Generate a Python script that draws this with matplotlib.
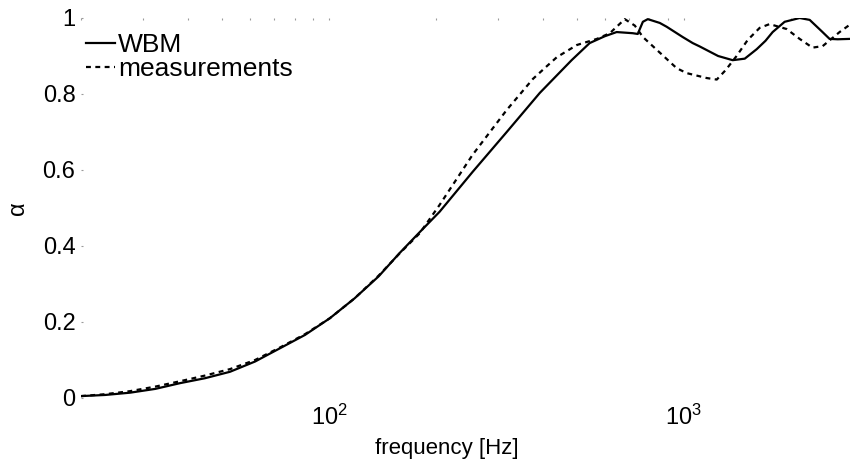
import numpy as np
import matplotlib
matplotlib.use("Agg")
import matplotlib.pyplot as plt

plt.rcParams["font.family"] = ["Liberation Sans", "DejaVu Sans"]
plt.rcParams["mathtext.fontset"] = "custom"
plt.rcParams["mathtext.rm"] = "Liberation Sans"

# WBM model
wbm_freq = [20, 23.4, 27.5, 32.4, 38, 44.7, 52.6, 61.9, 72.8, 85.6, 100.6,
            118, 138, 158, 180, 205, 254, 317, 393, 483, 543, 599, 647, 718,
            742, 767, 792, 856, 895, 993, 1060, 1110, 1250, 1374, 1486, 1606,
            1700, 1781, 1925, 2122, 2265, 2449, 2577, 2716, 2935]
wbm_alpha = [0.005, 0.008, 0.014, 0.024, 0.039, 0.052, 0.069, 0.096, 0.131,
             0.166, 0.21, 0.262, 0.32, 0.381, 0.436, 0.49, 0.595, 0.70,
             0.803, 0.889, 0.934, 0.952, 0.963, 0.96, 0.958, 0.99, 0.997,
             0.987, 0.977, 0.95, 0.934, 0.925, 0.90, 0.889, 0.893, 0.918,
             0.94, 0.963, 0.99, 1.0, 0.995, 0.965, 0.945, 0.944, 0.945]

# measurements
meas_freq = [20, 23.4, 27.5, 32.4, 38, 44.7, 52.6, 61.9, 72.8, 85.6, 100.6,
             118, 138, 158, 180, 205, 254, 317, 376, 411, 439, 500, 569, 619,
             682, 728, 767, 840, 955, 1019, 1161, 1239, 1313, 1409, 1514,
             1637, 1746, 1950, 2122, 2306, 2464, 2750, 2935]
meas_alpha = [0.005, 0.01, 0.018, 0.03, 0.044, 0.059, 0.076, 0.1, 0.133,
              0.168, 0.21, 0.262, 0.322, 0.38, 0.433, 0.508, 0.64, 0.758,
              0.84, 0.873, 0.897, 0.929, 0.945, 0.96, 0.997, 0.98, 0.95,
              0.916, 0.868, 0.855, 0.842, 0.838, 0.863, 0.90, 0.942, 0.974,
              0.984, 0.971, 0.945, 0.922, 0.926, 0.963, 0.982]

fig = plt.figure(figsize=(8.5, 4.62), dpi=100)
ax = fig.add_axes([81 / 850, 1 - 398 / 462, 772 / 850, 380 / 462])

ax.plot(wbm_freq, wbm_alpha, color="black", lw=1.6, label="WBM")
ax.plot(meas_freq, meas_alpha, color="black", lw=1.6, dashes=(2.2, 2),
        label="measurements")

ax.set_xscale("log")
ax.set_xlim(20, 3000)
ax.set_ylim(0, 1)
ax.set_yticks([0, 0.2, 0.4, 0.6, 0.8, 1])
ax.set_yticklabels(["0", "0.2", "0.4", "0.6", "0.8", "1"])
ax.set_xticks([100, 1000])
ax.set_xticklabels([r"$\mathregular{10^2}$", r"$\mathregular{10^3}$"])

for s in ax.spines.values():
    s.set_visible(False)
ax.tick_params(axis="both", which="both", labelsize=17, direction="in",
               length=1.2, width=0.8, color="#9a9a9a")
ax.tick_params(axis="x", which="both", bottom=False, top=True, pad=5)
ax.tick_params(axis="y", pad=4)

ax.set_xlabel("frequency [Hz]", fontsize=16)
ax.xaxis.set_label_coords(0.474, -0.105)
ax.set_ylabel("α", fontsize=17)
ax.yaxis.set_label_coords(-0.068, 0.5)

ax.legend(loc="upper left", bbox_to_anchor=(0.0, 0.975), frameon=False,
          fontsize=19, handlelength=1.1, handletextpad=0.1,
          labelspacing=0.0, borderpad=0.2, borderaxespad=0.0)

fig.savefig("out.png", dpi=100)
